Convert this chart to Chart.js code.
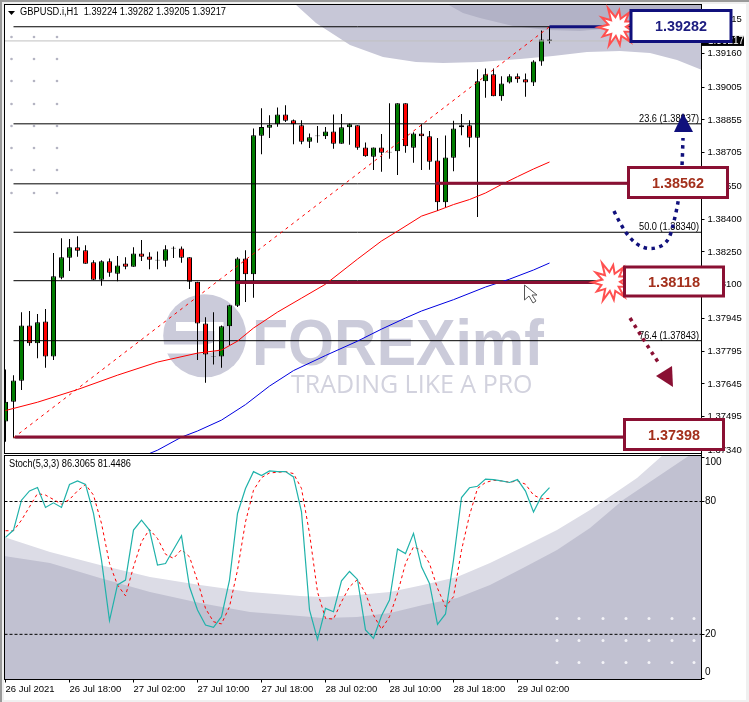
<!DOCTYPE html>
<html>
<head>
<meta charset="utf-8">
<title>GBPUSD H1</title>
<script src="https://cdn.jsdelivr.net/npm/chart.js@4/dist/chart.umd.min.js"></script>
<style>
  html, body { margin: 0; padding: 0; background: #fff; overflow: hidden; }
  canvas { display: block; }
</style>
</head>
<body>
<canvas id="chart" width="749" height="702"></canvas>
<script>
// candles, one per hour
var opens = [1.37473,1.37563,1.37659,1.37913,1.37831,1.37931,1.37771,1.38131,1.38223,1.38271,1.38257,1.38202,1.38122,1.38207,1.38150,1.38197,1.38182,1.38243,1.38229,1.38214,1.38209,1.38266,1.38266,1.38225,1.38113,1.37922,1.37772,1.37771,1.37909,1.38003,1.38220,1.38147,1.38782,1.38819,1.38835,1.38880,1.38853,1.38831,1.38755,1.38780,1.38780,1.38802,1.38746,1.38821,1.38830,1.38729,1.38686,1.38729,1.38709,1.38711,1.38931,1.38727,1.38793,1.38780,1.38669,1.38477,1.38681,1.38821,1.38831,1.38773,1.39032,1.39064,1.38963,1.39027,1.39055,1.39041,1.39027,1.39123,1.39224];
var highs = [1.37711,1.37685,1.37973,1.37979,1.37965,1.37988,1.38245,1.38313,1.38309,1.38322,1.38281,1.38212,1.38212,1.38220,1.38231,1.38225,1.38271,1.38304,1.38248,1.38252,1.38280,1.38275,1.38275,1.38225,1.38113,1.37950,1.37973,1.37913,1.38008,1.38225,1.38258,1.38816,1.38908,1.38876,1.38912,1.38922,1.38857,1.38854,1.38793,1.38827,1.38822,1.38880,1.38882,1.38839,1.38831,1.38752,1.38729,1.38790,1.38931,1.38931,1.38931,1.38799,1.38836,1.38804,1.38772,1.38784,1.38851,1.38882,1.38854,1.39087,1.39091,1.39091,1.39055,1.39064,1.39068,1.39068,1.39128,1.39265,1.39282];
var lows = [1.37380,1.37398,1.37617,1.37820,1.37763,1.37719,1.37754,1.38125,1.38162,1.38228,1.38196,1.38121,1.38095,1.38136,1.38115,1.38171,1.38182,1.38208,1.38171,1.38171,1.38182,1.38222,1.38200,1.38080,1.37754,1.37650,1.37734,1.37719,1.37823,1.37998,1.38020,1.38040,1.38698,1.38772,1.38824,1.38845,1.38744,1.38744,1.38726,1.38750,1.38767,1.38723,1.38746,1.38741,1.38718,1.38686,1.38625,1.38617,1.38677,1.38603,1.38704,1.38659,1.38625,1.38626,1.38437,1.38454,1.38620,1.38785,1.38730,1.38410,1.38956,1.38963,1.38943,1.39022,1.39025,1.38961,1.39011,1.39103,1.39205];
var closes = [1.37563,1.37661,1.37913,1.37831,1.37927,1.37771,1.38138,1.38225,1.38271,1.38255,1.38196,1.38122,1.38207,1.38154,1.38188,1.38182,1.38243,1.38228,1.38214,1.38211,1.38262,1.38269,1.38223,1.38113,1.37922,1.37780,1.37769,1.37909,1.38005,1.38220,1.38147,1.38785,1.38822,1.38833,1.38880,1.38851,1.38835,1.38755,1.38775,1.38784,1.38802,1.38746,1.38821,1.38835,1.38727,1.38688,1.38729,1.38704,1.38706,1.38931,1.38734,1.38793,1.38780,1.38663,1.38477,1.38683,1.38816,1.38831,1.38773,1.39032,1.39064,1.38963,1.39022,1.39055,1.39041,1.39027,1.39123,1.39224,1.39217];

// moving averages read at these candle numbers
var redMaAt = [0,4,9,14,19,24,27,29,31,34,37,40,44,47,49,52,54,56,58,60,62,64,66,68];
var redMa = [1.37523,1.37561,1.37619,1.37685,1.37745,1.37786,1.37800,1.37841,1.37901,1.37974,1.38038,1.38102,1.38217,1.38300,1.38345,1.38414,1.38439,1.38467,1.38490,1.38520,1.38559,1.38595,1.38630,1.38662];
var blueMaAt = [18,19,22,24,27,30,33,36,40,44,47,50,52,56,60,63,66,68];
var blueMa = [1.37326,1.37341,1.37401,1.37429,1.37479,1.37550,1.37635,1.37706,1.37775,1.37841,1.37896,1.37947,1.37979,1.38031,1.38089,1.38125,1.38167,1.38199];

// stochastic 5,3,3
var stochMain = [63.8,67.1,80.6,84.8,86.3,77.3,79.4,77.3,87.7,89.3,87.7,74.6,53.5,26.2,42.3,44.5,67.1,71.6,67.1,51.3,52,58.3,64.5,41.5,31,24.2,23.2,28,44.5,74.6,85.9,93.5,91.7,93.8,93.5,93.5,91.1,75.3,31,17.7,31.7,30.2,44.2,48.4,44.8,22,18.2,28.4,35.5,58.6,56.5,65.6,50.5,43,24.5,29.2,53.5,81.8,86.2,86.9,90.1,89.9,89.3,88.6,89.9,84.7,75.3,82.4,86.3];
var stochSignal = [66.8,66.8,71.6,77.6,83.6,82.9,80.9,78.8,80.9,84.8,87.7,82.9,70.1,52,42.3,37.4,50.5,61.8,67.4,63.3,56.2,54.3,58.3,55,44.2,31.7,25.7,24.7,32.5,49,70.8,85.1,90.8,92.9,93.2,93.5,92.6,85.9,65.6,39.2,27.2,26.9,34.7,41.5,44.8,38.5,28.7,22.3,28,38.5,52,59.5,58,52,40.8,32.5,37,58,73.8,85.9,88.6,89.6,89.3,88.7,89.3,87.8,82.9,81.2,81.4];
var stochLevels = [80, 20];

// axes
var priceTicks = [1.39315,1.39160,1.39005,1.38855,1.38705,1.38550,1.38400,1.38250,1.38100,1.37945,1.37795,1.37645,1.37495,1.37340];
var stochTicks = [100, 80, 20, 0];
var timeTickAt = [0, 8, 16, 24, 32, 40, 48, 56, 64];
var timeLabels = ["26 Jul 2021","26 Jul 18:00","27 Jul 02:00","27 Jul 10:00","27 Jul 18:00","28 Jul 02:00","28 Jul 10:00","28 Jul 18:00","29 Jul 02:00"];

// fibonacci retracement
var fibPrices = [1.39282,1.38837,1.38562,1.38340,1.38118,1.37843,1.37398];
var fibNames = ["","23.6","","50.0","","76.4",""];
var bidPrice = 1.39217;

// hand drawn levels: price, first candle, last candle
var levelPrices = [1.38565, 1.38110, 1.37402];
var levelFrom = [53.7, 28.8, 1.2];
var levelTo = [78, 74, 77.5];
var highPrice = 1.39282;
var calloutTexts = ["1.39282", "1.38562", "1.38118", "1.37398"];

var titleText = "GBPUSD.i,H1  1.39224 1.39282 1.39205 1.39217";
var stochText = "Stoch(5,3,3) 86.3065 81.4486";
var logoText = "FOREXimf";
var sloganText = "TRADING LIKE A PRO";

var uiFont = '"Liberation Sans", sans-serif';
var GREEN = '#007c00', RED = '#ff0000', WINE = '#8a1033', NAVY = '#10107c';

function xy(at, values) {
  return values.map(function (v, i) { return { x: at[i], y: v }; });
}
var candleAt = opens.map(function (o, i) { return i; });

function flatLine(price, from, to, color, width, yAxis, dash) {
  return { type: 'line', data: [{ x: from, y: price }, { x: to, y: price }], yAxisID: yAxis || 'price',
    borderColor: color, borderWidth: width, borderDash: dash || [], pointRadius: 0, order: 3 };
}

// axis labels stick out of the plot, keep them from moving the plot edges
function noLabelMargin(s) {
  s.paddingTop = 0; s.paddingBottom = 0; s.paddingLeft = 0; s.paddingRight = 0;
}

// the watermark behind the chart, in pixels of the 749x702 shot
var curveOuter = [[295,4],[316,23],[350,45],[383,57],[416,62],[443,63],[480,62],[520,59],[553,56],[587,52],[620,51],[650,53],[677,60],[702,70],[702,4]];
var curveInner = [[447,4],[463,13],[480,18],[513,26],[547,30],[580,31],[613,28],[650,26],[702,22],[702,4]];
var bandLight = [[4,537],[50,552],[100,565],[150,577],[200,585],[250,592],[300,596],[323,597],[357,595],[390,592],[423,585],[457,577],[490,563],[523,547],[557,530],[590,510],[637,478],[663,455],[702,455],[702,680],[4,680]];
var bandDark = [[4,556],[50,563],[100,578],[150,592],[200,603],[250,612],[300,616],[323,618],[357,617],[390,613],[423,605],[457,598],[490,585],[523,568],[557,550],[590,528],[623,500],[690,455],[702,455],[702,680],[4,680]];

function fillShape(c, pts, color) {
  c.fillStyle = color;
  c.beginPath();
  pts.forEach(function (p, i) { if (i) c.lineTo(p[0], p[1]); else c.moveTo(p[0], p[1]); });
  c.closePath();
  c.fill();
}

function smoothDots(c, pts, color) {
  c.save();
  c.strokeStyle = color;
  c.lineWidth = 3.5;
  c.setLineDash([3.5, 4.5]);
  c.beginPath();
  c.moveTo(pts[0][0], pts[0][1]);
  for (var i = 1; i < pts.length - 1; i++) {
    c.quadraticCurveTo(pts[i][0], pts[i][1], (pts[i][0] + pts[i + 1][0]) / 2, (pts[i][1] + pts[i + 1][1]) / 2);
  }
  var last = pts[pts.length - 1];
  c.lineTo(last[0], last[1]);
  c.stroke();
  c.restore();
}

function burst(c, cx, cy) {
  var radii = [19, 9, 17, 9, 20, 10, 18, 9, 20, 9, 17, 10, 19, 9, 18, 9, 21, 10, 17, 9, 19, 10];
  c.beginPath();
  radii.forEach(function (r, i) {
    var a = i / radii.length * Math.PI * 2 - 0.3;
    var px = cx + Math.cos(a) * r, py = cy + Math.sin(a) * r;
    if (i) c.lineTo(px, py); else c.moveTo(px, py);
  });
  c.closePath();
  c.fillStyle = '#fff';
  c.fill();
  c.strokeStyle = '#ff5050';
  c.lineWidth = 2;
  c.stroke();
}

function callout(c, x, y, w, h, text, edge, ink) {
  c.fillStyle = '#fff';
  c.fillRect(x, y, w, h);
  c.strokeStyle = edge;
  c.lineWidth = 3;
  c.strokeRect(x, y, w, h);
  c.fillStyle = ink;
  c.font = 'bold 15px ' + uiFont;
  c.textAlign = 'center';
  c.textBaseline = 'middle';
  c.fillText(text, x + w / 2, y + h / 2 + 1, 52);
}

var backdrop = {
  id: 'backdrop',
  beforeDraw: function (chart) {
    var c = chart.ctx;
    c.save();
    // window frame
    c.fillStyle = '#f0f0f0';
    c.fillRect(0, 0, 749, 702);
    c.fillStyle = '#9a9a9a';
    c.fillRect(0, 0, 749, 2);
    c.fillRect(0, 0, 2, 702);
    c.fillStyle = '#fff';
    c.fillRect(4, 4, 742, 696);

    c.beginPath();
    c.rect(4.5, 4.5, 697, 449);
    c.clip();
    fillShape(c, curveOuter, '#c7c7d7');
    fillShape(c, curveInner, '#b2b2c6');
    // corner dots
    c.fillStyle = '#b4b4c2';
    [11.5, 34, 57].forEach(function (x) {
      [37, 59, 81, 104, 126, 148, 170, 193].forEach(function (y) {
        c.beginPath(); c.arc(x, y, 1.3, 0, Math.PI * 2); c.fill();
      });
    });
    // logo
    c.fillStyle = '#cbcbda';
    c.beginPath(); c.arc(204.7, 335.8, 41.5, 0, Math.PI * 2); c.fill();
    c.strokeStyle = '#fff';
    c.lineWidth = 9;
    c.beginPath();
    c.moveTo(176, 326.5);
    c.lineTo(219, 326.5);
    c.lineTo(219, 343);
    c.quadraticCurveTo(215, 349, 200, 349);
    c.lineTo(160, 349);
    c.stroke();
    c.fillStyle = '#cbcbda';
    c.font = 'bold 65px ' + uiFont;
    c.textAlign = 'left';
    c.textBaseline = 'alphabetic';
    c.fillText(logoText, 252, 365, 292);
    c.fillStyle = '#d2d2de';
    c.font = '25px "Open Sans", sans-serif';
    c.fillText(sloganText, 291, 393, 253);
    c.restore();

    c.save();
    c.beginPath();
    c.rect(4.5, 455.5, 697, 224);
    c.clip();
    fillShape(c, bandLight, '#dcdce6');
    fillShape(c, bandDark, '#c1c1d1');
    c.fillStyle = '#f4f4f8';
    [557, 579, 603, 626, 649, 672, 694].forEach(function (x) {
      [618.5, 640.5, 662.5].forEach(function (y) {
        c.beginPath(); c.arc(x, y, 1.5, 0, Math.PI * 2); c.fill();
      });
    });
    c.restore();
  }
};

var overlay = {
  id: 'overlay',
  afterDraw: function (chart) {
    var c = chart.ctx, price = chart.scales.price, stoch = chart.scales.stoch;
    c.save();
    // panel frames
    c.strokeStyle = '#000';
    c.lineWidth = 1;
    c.strokeRect(4.5, 4.5, 697, 449);
    c.strokeRect(4.5, 455.5, 697, 224);

    // header texts
    c.fillStyle = '#000';
    c.font = '10px ' + uiFont;
    c.textAlign = 'left';
    c.textBaseline = 'middle';
    c.fillText(titleText, 20, 12.5, 206);
    c.fillText(stochText, 9, 464.5, 122);
    c.beginPath(); c.moveTo(8, 11); c.lineTo(15, 11); c.lineTo(11.5, 15); c.closePath(); c.fill();

    // oscillator scale, the end labels sit inside the panel
    stochTicks.forEach(function (v) {
      var y = Math.min(672, Math.max(462, stoch.getPixelForValue(v)));
      c.fillText(String(v), 705, y);
    });

    // fibonacci captions
    c.textAlign = 'right';
    c.textBaseline = 'alphabetic';
    fibPrices.forEach(function (p, i) {
      if (fibNames[i]) c.fillText(fibNames[i] + ' (' + p.toFixed(5) + ')', 699, price.getPixelForValue(p) - 2, 60);
    });

    // bid price tag
    var bidY = price.getPixelForValue(bidPrice);
    c.fillStyle = '#000';
    c.fillRect(702, bidY - 5, 42, 10);
    c.fillStyle = '#fff';
    c.textAlign = 'left';
    c.textBaseline = 'middle';
    c.fillText(bidPrice.toFixed(5), 708, bidY);

    // arrows
    smoothDots(c, [[614,211],[622,228],[636,245],[652,250],[668,243],[674,222],[679,198],[682,170],[683,138]], NAVY);
    fillShape(c, [[683,113],[693,132],[674,132]], NAVY);
    smoothDots(c, [[630,318],[645,342],[660,365]], WINE);
    fillShape(c, [[672,366],[656,376],[673,387]], WINE);

    // mouse pointer
    c.beginPath();
    c.moveTo(524.5, 285); c.lineTo(524.5, 300); c.lineTo(529, 296); c.lineTo(533, 303);
    c.lineTo(536, 301); c.lineTo(532, 295); c.lineTo(537, 295); c.closePath();
    c.fillStyle = '#fff'; c.fill();
    c.strokeStyle = '#555'; c.lineWidth = 1; c.stroke();

    // callouts
    burst(c, 617, 27);
    callout(c, 631, 10.5, 100, 31, calloutTexts[0], NAVY, '#1c1c80');
    callout(c, 628.5, 167.5, 99, 30, calloutTexts[1], WINE, '#a3301c');
    burst(c, 611, 282);
    callout(c, 624.5, 267, 99, 29, calloutTexts[2], WINE, '#a3301c');
    callout(c, 624.5, 419.5, 99, 30, calloutTexts[3], WINE, '#a3301c');
    c.restore();
  }
};

var datasets = [
  // candles
  { type: 'bar', data: candleAt.map(function (i) { return { x: i, y: [opens[i], closes[i]] }; }),
    yAxisID: 'price', barThickness: 5, grouped: false, inflateAmount: 0, borderSkipped: false, borderWidth: 1, borderColor: '#000',
    backgroundColor: candleAt.map(function (i) {
      if (Math.abs(closes[i] - opens[i]) < 0.00005) return '#000';
      return closes[i] > opens[i] ? GREEN : RED;
    }), order: 6 },
  { type: 'bar', data: candleAt.map(function (i) { return { x: i, y: [lows[i], highs[i]] }; }),
    yAxisID: 'price', barThickness: 1, grouped: false, inflateAmount: 0, borderWidth: 0, backgroundColor: '#000', order: 7 },
  // averages and the retracement diagonal
  { type: 'line', data: xy(redMaAt, redMa), yAxisID: 'price', borderColor: '#ff0000', borderWidth: 1, pointRadius: 0, order: 2 },
  { type: 'line', data: xy(blueMaAt, blueMa), yAxisID: 'price', borderColor: '#0000e0', borderWidth: 1, pointRadius: 0, order: 2 },
  { type: 'line', data: [{ x: 1, y: fibPrices[6] }, { x: 68, y: fibPrices[0] }], yAxisID: 'price', borderColor: '#ff0000', borderWidth: 1, borderDash: [3, 4], pointRadius: 0, order: 2 },
  // stochastic
  { type: 'line', data: xy(candleAt, stochSignal), yAxisID: 'stoch', borderColor: '#ff0000', borderWidth: 1, borderDash: [3, 3], pointRadius: 0, order: 2 },
  { type: 'line', data: xy(candleAt, stochMain), yAxisID: 'stoch', borderColor: '#20b2aa', borderWidth: 1.2, pointRadius: 0, order: 1 }
];
fibPrices.forEach(function (p) { datasets.push(flatLine(p, 1, 87, '#000', 1)); });
datasets.push(flatLine(bidPrice, -0.125, 87, '#c0c0c0', 1));
stochLevels.forEach(function (v) { datasets.push(flatLine(v, -0.125, 87, '#000', 1, 'stoch', [3, 2])); });
levelPrices.forEach(function (p, i) {
  var d = flatLine(p, levelFrom[i], levelTo[i], WINE, 3);
  d.order = 0;
  datasets.push(d);
});
var navyLine = flatLine(highPrice, 68, 75, NAVY, 3);
navyLine.order = 0;
datasets.push(navyLine);

new Chart(document.getElementById('chart'), {
  type: 'line',
  data: { datasets: datasets },
  plugins: [backdrop, overlay],
  options: {
    responsive: false,
    animation: false,
    devicePixelRatio: 1,
    events: [],
    layout: { padding: { left: 4.5, top: 4.5, right: 0, bottom: 0 } },
    plugins: { legend: { display: false }, tooltip: { enabled: false }, title: { display: false } },
    scales: {
      x: {
        type: 'linear', min: -0.125, max: 87, offset: false,
        afterFit: function (s) { s.height = 22.5; noLabelMargin(s); },
        afterBuildTicks: function (s) { s.ticks = timeTickAt.map(function (v) { return { value: v }; }); },
        border: { color: '#000' },
        grid: { drawOnChartArea: false, color: '#000', tickLength: 3, offset: false },
        ticks: {
          align: 'start', autoSkip: false, maxRotation: 0, padding: 1, color: '#000',
          font: { family: uiFont, size: 9.5 },
          callback: function (v) { return timeLabels[timeTickAt.indexOf(v)]; }
        }
      },
      price: {
        type: 'linear', position: 'right', weight: 2, min: 1.36290, max: 1.39384,
        afterFit: function (s) { s.width = 47.5; noLabelMargin(s); },
        afterBuildTicks: function (s) { s.ticks = priceTicks.map(function (v) { return { value: v }; }); },
        border: { color: '#000' },
        grid: { drawOnChartArea: false, color: '#000', tickLength: 3 },
        ticks: {
          autoSkip: false, padding: 3, color: '#000',
          font: { family: uiFont, size: 9.5 },
          callback: function (v) { return v.toFixed(5); }
        }
      },
      stoch: {
        type: 'linear', position: 'right', weight: 1, min: -0.4, max: 304.5,
        afterFit: function (s) { s.width = 0; noLabelMargin(s); },
        afterBuildTicks: function (s) { s.ticks = stochTicks.map(function (v) { return { value: v }; }); },
        border: { display: false },
        grid: { drawOnChartArea: false, color: '#000', tickLength: 3 },
        ticks: { display: false, autoSkip: false }
      }
    }
  }
});
</script>
</body>
</html>
